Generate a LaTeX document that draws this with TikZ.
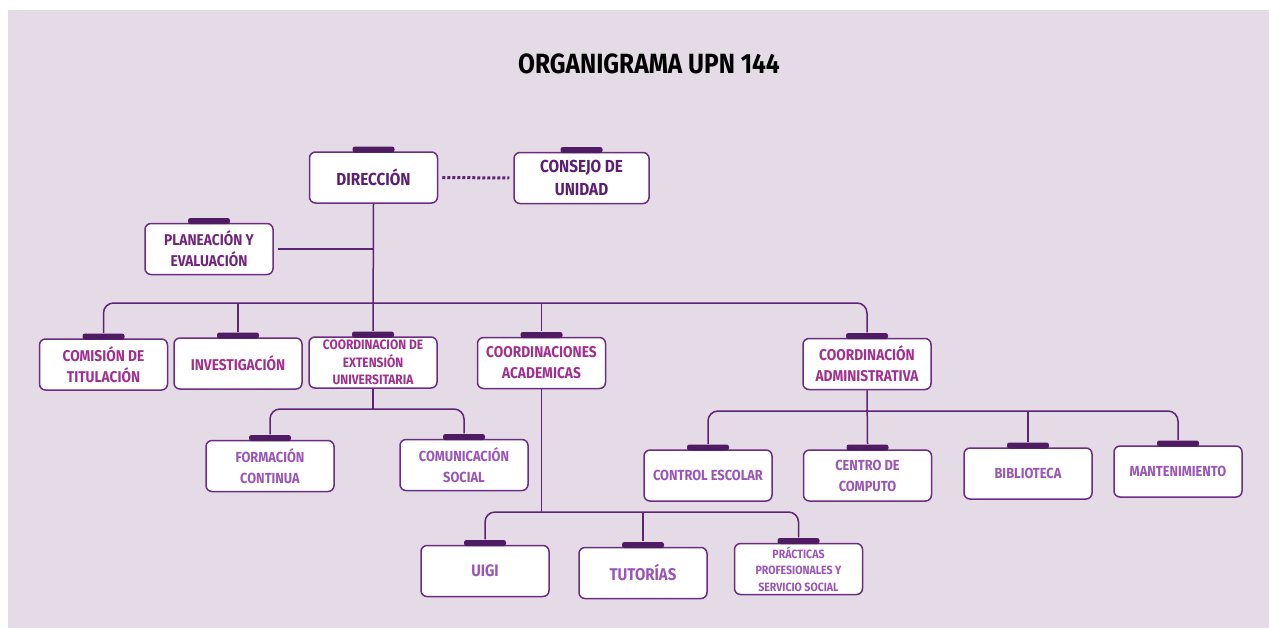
\documentclass[tikz,border=0pt]{standalone}
\usepackage{fontspec}
\setmainfont{Fira Sans}[FakeStretch=0.88]
\usetikzlibrary{positioning}
\definecolor{bgc}{HTML}{E5DBE6}
\definecolor{edgec}{HTML}{6B2D82}
\definecolor{tabc}{HTML}{4F1B63}
\definecolor{linec}{HTML}{5E2474}
\definecolor{txtone}{HTML}{5B1F73}
\definecolor{txttwo}{HTML}{A0308F}
\definecolor{txtthree}{HTML}{9A55B5}
\tikzset{every picture/.style={line width=0.75pt}}
\tikzset{
  box/.style={draw=edgec, fill=white, rounded corners=3pt, minimum width=64pt,
    minimum height=25.5pt, inner sep=0pt, align=center},
  lvlone/.style={box, text=txtone, font=\bfseries\fontsize{8.7}{11.5}\selectfont},
  lvltwo/.style={box, text=txttwo, font=\bfseries\fontsize{7.8}{10.5}\selectfont},
  lvlthree/.style={box, text=txtthree, font=\bfseries\fontsize{7.3}{10.5}\selectfont},
  tab/.style={fill=tabc, rounded corners=1.2pt, minimum width=21pt, minimum height=3pt,
    inner sep=0pt, anchor=south, yshift=-1pt},
  con/.style={draw=linec, line width=0.75pt},
  bus/.style={con, rounded corners=5pt}
}

\begin{document}
\begin{tikzpicture}[x=0.5pt, y=-0.5pt]
  \useasboundingbox (0,0) rectangle (1269,628);
  \fill[bgc] (8,10) rectangle (1269,628);
  \node[font=\bfseries\fontsize{13.9}{15}\selectfont] (title) at (649,64) {ORGANIGRAMA UPN 144};

  \node[lvlone] (dir) at (373.5,177.5) {DIRECCIÓN};
  \node[lvlone, minimum width=67.5pt] (consejo) at (581.5,178) {CONSEJO DE\\UNIDAD};
  \node[lvltwo, text=txtone!70!txttwo] (plan) at (209,249) {PLANEACIÓN Y\\EVALUACIÓN};

  \node[lvltwo] (comision) at (103.5,364.5) {COMISIÓN DE\\TITULACIÓN};
  \node[lvltwo] (invest) at (238,363.5) {INVESTIGACIÓN};
  \node[lvltwo, font=\bfseries\fontsize{6.8}{8.8}\selectfont] (extension) at (373,362.5) {COORDINACION DE\\EXTENSIÓN\\UNIVERSITARIA};
  \node[lvltwo] (academ) at (541.5,363) {COORDINACIONES\\ACADEMICAS};
  \node[lvltwo] (admin) at (867,364) {COORDINACIÓN\\ADMINISTRATIVA};

  \node[lvlthree] (formacion) at (270,466) {FORMACIÓN\\CONTINUA};
  \node[lvlthree] (comunic) at (464,465) {COMUNICACIÓN\\SOCIAL};

  \node[lvlthree, font=\bfseries\fontsize{8.3}{10.5}\selectfont] (uigi) at (485,571) {UIGI};
  \node[lvlthree, font=\bfseries\fontsize{8.5}{10.5}\selectfont] (tutorias) at (643,573) {TUTORÍAS};
  \node[lvlthree, font=\bfseries\fontsize{6}{8.3}\selectfont] (practicas) at (798.5,569) {PRÁCTICAS\\PROFESIONALES Y\\SERVICIO SOCIAL};

  \node[lvlthree] (control) at (708,475.5) {CONTROL ESCOLAR};
  \node[lvlthree] (centro) at (867.5,475.5) {CENTRO DE\\COMPUTO};
  \node[lvlthree] (biblio) at (1028,473.5) {BIBLIOTECA};
  \node[lvlthree] (mant) at (1178,471.5) {MANTENIMIENTO};

  % tabs on top of every box
  \foreach \n in {dir,consejo,plan,comision,invest,extension,academ,admin,formacion,comunic,uigi,tutorias,practicas,control,centro,biblio,mant}
    \node[tab] (\n-tab) at (\n.north) {};

  \coordinate (b1) at (541.5,303);
  \coordinate (b2) at (373,409);
  \coordinate (b3) at (541.5,512);
  \coordinate (b4) at (867,411);

  \draw[con, line width=1.5pt, dash pattern=on 1.5pt off 1pt, shorten <=2pt, shorten >=2pt] (dir.east) -- (consejo.west);
  \draw[con, shorten <=2pt] (plan.east) -- (dir.south |- plan.east);
  \draw[con] (dir.south) -- (extension-tab.north);
  \draw[bus] (comision-tab.north) |- (b1) -| (admin-tab.north);
  \draw[con] (b1) -- (academ-tab.north);
  \draw[con] (invest-tab.north) -- (invest-tab.north |- b1);

  \draw[con] (extension.south) -- (b2);
  \draw[bus] (formacion-tab.north) |- (b2) -| (comunic-tab.north);

  \draw[con] (academ.south) -- (b3);
  \draw[bus] (uigi-tab.north) |- (b3) -| (practicas-tab.north);
  \draw[con] (tutorias-tab.north) -- (tutorias-tab.north |- b3);

  \draw[con] (admin.south) -- (centro-tab.north);
  \draw[bus] (control-tab.north) |- (b4) -| (mant-tab.north);
  \draw[con] (biblio-tab.north) -- (biblio-tab.north |- b4);
\end{tikzpicture}
\end{document}
